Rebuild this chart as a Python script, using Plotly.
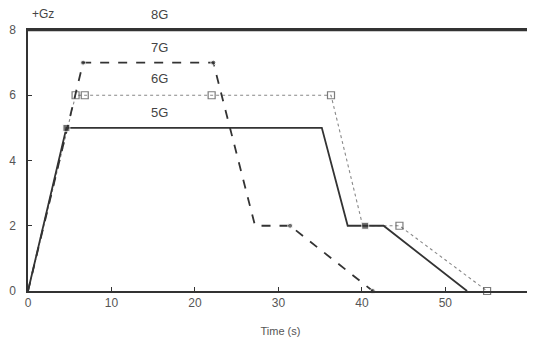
import plotly.graph_objects as go

# 5G profile (solid)
t5 = [0, 4.6, 35.2, 38.3, 40.4, 42.6, 52.6]
g5 = [0, 5, 5, 2, 2, 2, 0]
m5 = [0, 1, 0, 0, 1, 0, 0]

# 6G profile (dotted)
t6 = [0, 5.7, 6.8, 22.0, 36.3, 40.1, 44.5, 55.0]
g6 = [0, 6, 6, 6, 6, 2, 2, 0]
m6 = [0, 1, 1, 1, 1, 0, 1, 1]

# 7G profile (dashed)
t7 = [0, 6.6, 22.2, 27.2, 31.4, 41.3]
g7 = [0, 7, 7, 2, 2, 0]
m7 = [0, 1, 1, 0, 1, 1]

# 8G profile (top line)
t8 = [0, 60.5]
g8 = [8, 8]

profile_labels = ["8G", "7G", "6G", "5G"]
label_x = [15.8, 15.8, 15.8, 15.8]
label_y = [8.48, 7.47, 6.5, 5.48]

x_ticks = [0, 10, 20, 30, 40, 50]
y_ticks = [0, 2, 4, 6, 8]

ink = "#333333"
fig = go.Figure()

fig.add_trace(go.Scatter(x=t8, y=g8, mode="lines", line=dict(color=ink, width=2.5),
                         cliponaxis=False, showlegend=False))
fig.add_trace(go.Scatter(x=t6, y=g6, mode="lines+markers",
                         line=dict(color="#888888", width=1.1, dash="dot"),
                         marker=dict(symbol="square-open", size=[7 * m for m in m6],
                                     color="#444444", line=dict(width=1.2)),
                         cliponaxis=False, showlegend=False))
fig.add_trace(go.Scatter(x=t7, y=g7, mode="lines+markers",
                         line=dict(color=ink, width=1.8, dash="dash"),
                         marker=dict(symbol="circle", size=[5 * m for m in m7], color=ink),
                         cliponaxis=False, showlegend=False))
fig.add_trace(go.Scatter(x=t5, y=g5, mode="lines+markers",
                         line=dict(color=ink, width=1.8),
                         marker=dict(symbol="square", size=[7 * m for m in m5], color=ink),
                         cliponaxis=False, showlegend=False))

y_lo, y_hi = 0, 8
for txt, lx, ly in zip(profile_labels, label_x, label_y):
    fig.add_annotation(x=lx, y=(ly - y_lo) / (y_hi - y_lo), yref="paper", text=txt,
                       xanchor="center", yanchor="middle",
                       showarrow=False, font=dict(size=13, color="#444444"))
fig.add_annotation(x=0.03, y=1.06, xref="paper", yref="paper", text="+Gz",
                   xanchor="center", yanchor="middle",
                   showarrow=False, font=dict(size=12, color="#444444"))

# page body adds an 8px offset; size the figure so the plot lands where the reference's does
fig.update_layout(
    width=527, height=341,
    margin=dict(l=20, r=2, t=22, b=58),
    paper_bgcolor="white", plot_bgcolor="white",
    font=dict(family="Liberation Sans, Arial, sans-serif", size=12, color="#555555"),
)
fig.update_xaxes(range=[0, 60.5], tickvals=x_ticks, ticks="inside", ticklen=4,
                 tickcolor=ink, showline=True, mirror=True, linecolor=ink, linewidth=1.5,
                 showgrid=False, zeroline=False, automargin=False,
                 title=dict(text="Time (s)", font=dict(size=11, color="#555555"), standoff=18))
fig.update_yaxes(range=[y_lo, y_hi], tickvals=y_ticks, ticks="inside", ticklen=4,
                 tickcolor=ink, showline=True, mirror=True, linecolor=ink, linewidth=1.5,
                 showgrid=False, zeroline=False, automargin=False, ticklabelstandoff=8)

fig.write_html("out.html")
